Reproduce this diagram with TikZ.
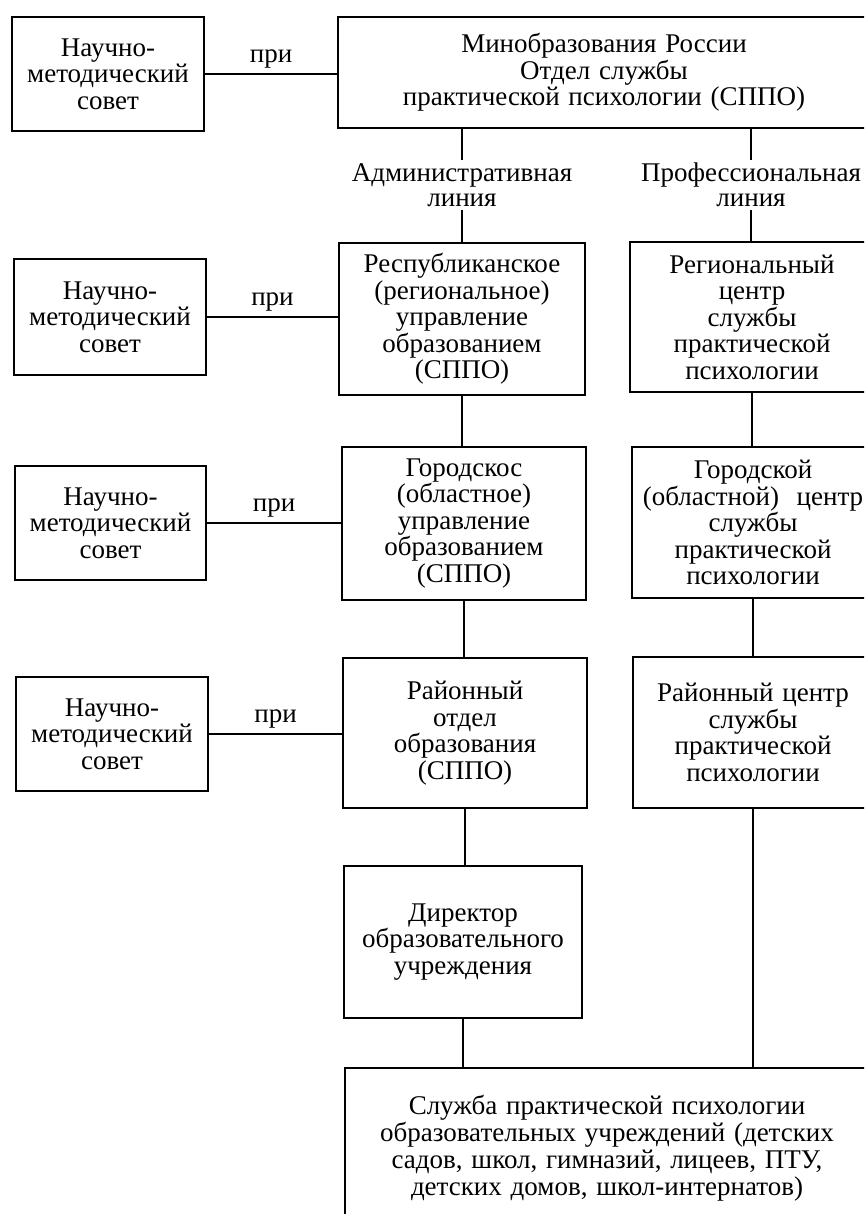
\documentclass[tikz,border=0pt]{standalone}
\usepackage{fontspec}
\setmainfont[WordSpace=1.3]{Liberation Serif}
\begin{document}
\begin{tikzpicture}[x=1pt,y=-1pt]
\tikzset{
  bx/.style 2 args={draw, line width=2pt, align=center, inner sep=0pt,
    minimum width=#1, minimum height=#2,
    font=\fontsize{27}{26.5}\selectfont},
  lbl/.style={align=center, inner sep=3pt, font=\fontsize{27}{25}\selectfont},
  pri/.style={inner sep=5pt, font=\fontsize{27}{26.5}\selectfont},
  ln/.style={line width=2pt}
}
\useasboundingbox (0,0) rectangle (864,1214);
\clip (0,0) rectangle (864,1214);

% left column
\node[bx={192}{114}] (L1) at (108,74) {Научно-\\методический\\совет};
\node[bx={192}{115}] (L2) at (110,317) {Научно-\\методический\\совет};
\node[bx={191}{114}] (L3) at (110.5,523) {Научно-\\методический\\совет};
\node[bx={192}{114}] (L4) at (112,734) {Научно-\\методический\\совет};

% top box
\node[bx={532}{111}] (T) at (604,72.5) {Минобразования России\\Отдел службы\\практической психологии (СППО)};

% middle column
\node[bx={246}{152}] (M1) at (462,319) {Республиканское\\(региональное)\\управление\\образованием\\(СППО)};
\node[bx={244}{153}] (M2) at (464,523.5) {Городскос\\(областное)\\управление\\образованием\\(СППО)};
\node[bx={244}{150}] (M3) at (465,733) {Районный\\отдел\\образования\\(СППО)};
\node[bx={238}{152}] (M4) at (463,942) {Директор\\образовательного\\учреждения};

% right column
\node[bx={244}{150}] (R1) at (752,317) {Региональный\\центр\\службы\\практической\\психологии};
\node[bx={242}{151}] (R2) at (753,522.5) {Городской\\(областной)\ \ центр\\службы\\практической\\психологии};
\node[bx={241}{151}] (R3) at (753,732.5) {Районный центр\\службы\\практической\\психологии};

% bottom box
\node[bx={524}{160}, font=\fontsize{27}{27}\selectfont] (B) at (607,1148) {Служба практической психологии\\образовательных учреждений (детских\\садов, школ, гимназий, лицеев, ПТУ,\\детских домов, школ-интернатов)};

% line labels
\node[lbl] (A) at (462,185) {Административная\\линия};
\node[lbl] (P) at (751,185) {Профессиональная\\линия};

% connectors
\draw[ln] (A.north |- T.south) -- (A.north);
\draw[ln] (A.south) -- (A.south |- M1.north);
\draw[ln] (P.north |- T.south) -- (P.north);
\draw[ln] (P.south) -- (P.south |- R1.north);

\draw[ln] (M1.south) -- (M1.south |- M2.north);
\draw[ln] (M2.south) -- (M2.south |- M3.north);
\draw[ln] (M3.south) -- (M3.south |- M4.north);
\draw[ln] (M4.south) -- (M4.south |- B.north);

\draw[ln] (R1.south) -- (R1.south |- R2.north);
\draw[ln] (R2.south) -- (R2.south |- R3.north);
\draw[ln] (R3.south) -- (R3.south |- B.north);

\draw[ln] (L1.east) -- (L1.east -| T.west) node[pri, midway, above] {при};
\draw[ln] (L2.east) -- (L2.east -| M1.west) node[pri, midway, above] {при};
\draw[ln] (L3.east) -- (L3.east -| M2.west) node[pri, midway, above] {при};
\draw[ln] (L4.east) -- (L4.east -| M3.west) node[pri, midway, above] {при};
\end{tikzpicture}
\end{document}
